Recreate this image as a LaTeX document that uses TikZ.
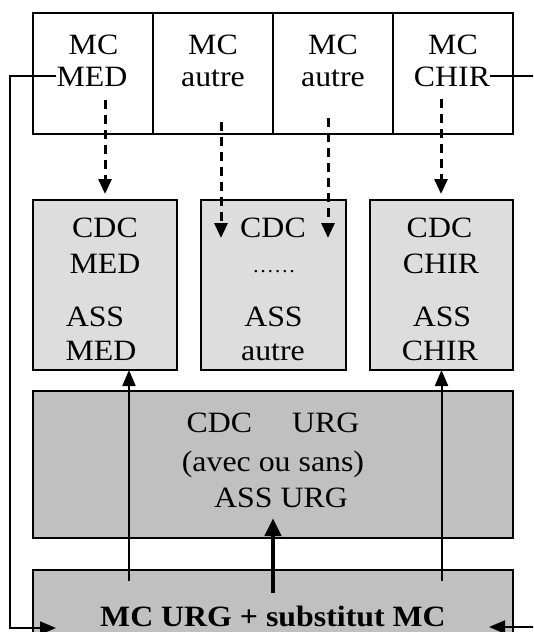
\documentclass[tikz,border=0pt]{standalone}
\usepackage{fontspec}
\setmainfont[FakeStretch=1.08]{Liberation Serif}
\usetikzlibrary{arrows.meta}
\definecolor{lightbox}{HTML}{DDDDDD}
\definecolor{darkbox}{HTML}{C0C0C0}
\begin{document}
\begin{tikzpicture}[x=1pt,y=-1pt,
  box/.style={draw, line width=1.6pt, inner sep=0pt, outer sep=0pt},
  txt/.style={font=\fontsize{29.5}{34}\selectfont, inner sep=0pt, anchor=base},
  btxt/.style={font=\fontsize{29.5}{34}\selectfont\bfseries, inner sep=0pt, anchor=base},
  dasharrow/.style={line width=3pt, dash pattern=on 9pt off 6pt, -{Triangle[width=13pt,length=15pt]}},
  solidarrow/.style={line width=2pt, -{Triangle[width=13pt,length=16pt]}},
  thickarrow/.style={line width=4.5pt, -{Triangle[width=16pt,length=18pt]}},
  conn/.style={line width=2pt}]
\clip (0,0) rectangle (533,632);
\fill[white] (0,0) rectangle (533,632);
% top row cells
\node[box, minimum width=120pt, minimum height=121pt] (mc1) at (93,73.5) {};
\node[box, minimum width=120pt, minimum height=121pt] (mc2) at (213,73.5) {};
\node[box, minimum width=120pt, minimum height=121pt] (mc3) at (333,73.5) {};
\node[box, minimum width=120pt, minimum height=121pt] (mc4) at (453,73.5) {};
\node[txt] (t1a) at (93.5,54) {MC};
\node[txt] (t1b) at (92,86) {MED};
\node[txt] (t2a) at (213,54) {MC};
\node[txt] (t2b) at (213,86) {autre};
\node[txt] (t3a) at (333,54) {MC};
\node[txt] (t3b) at (333,86) {autre};
\node[txt] (t4a) at (453,54) {MC};
\node[txt] (t4b) at (452,86) {CHIR};
% middle boxes
\node[box, fill=lightbox, minimum width=144pt, minimum height=170pt] (b1) at (105,285) {};
\node[box, fill=lightbox, minimum width=145pt, minimum height=170pt] (b2) at (273.5,285) {};
\node[box, fill=lightbox, minimum width=143pt, minimum height=170pt] (b3) at (441.5,285) {};
\node[txt] (b1a) at (105,237) {CDC};
\node[txt] (b1b) at (105,273) {MED};
\node[txt] (b1c) at (95,326) {ASS};
\node[txt] (b1d) at (101,360) {MED};
\node[txt] (b2a) at (273,237) {CDC};
\node[txt] (b2b) at (274,272) {\fontsize{20}{24}\selectfont ……};
\node[txt] (b2c) at (273.5,326) {ASS};
\node[txt] (b2d) at (273,360) {autre};
\node[txt] (b3a) at (439.5,237) {CDC};
\node[txt] (b3b) at (441,273) {CHIR};
\node[txt] (b3c) at (442,326) {ASS};
\node[txt] (b3d) at (440,360) {CHIR};
% URG box
\node[box, fill=darkbox, minimum width=480pt, minimum height=147pt] (urg) at (273,464.5) {};
\node[txt] (u1) at (273,432) {CDC\hspace{40pt}URG};
\node[txt] (u2) at (273,471) {(avec ou sans)};
\node[txt] (u3) at (281,507) {ASS URG};
% bottom box
\node[box, fill=darkbox, minimum width=480pt, minimum height=100pt] (bot) at (273,620) {};
\node[btxt] (bt) at (273,626) {MC URG + substitut MC};
% connectors
\coordinate (d1) at (105,100);
\coordinate (d2) at (221,122);
\coordinate (d2e) at (221,238);
\coordinate (d3) at (328,118);
\coordinate (d3e) at (328,238);
\coordinate (d4) at (441,99);
\draw[dasharrow, shorten >=6pt] (d1) -- (d1 |- b1.north);
\draw[dasharrow] (d2) -- (d2e);
\draw[dasharrow] (d3) -- (d3e);
\draw[dasharrow, shorten >=6pt] (d4) -- (d4 |- b3.north);
\coordinate (s1) at (129,581);
\coordinate (s3) at (441.5,581);
\draw[solidarrow] (s1) -- (s1 |- b1.south);
\draw[solidarrow] (s3) -- (s3 |- b3.south);
\coordinate (ts) at (273,593);
\coordinate (tt) at (273,518);
\draw[thickarrow] (ts) -- (tt);
\coordinate (lx) at (10,628);
\coordinate (ltip) at (56,628);
\draw[conn, -{Triangle[width=13pt,length=16pt]}] (t1b.west) -| (lx) -- (ltip);
\coordinate (rx) at (545,627);
\coordinate (rtip) at (489,627);
\draw[conn, -{Triangle[width=13pt,length=16pt]}] (t4b.east) -| (rx) -- (rtip);
\end{tikzpicture}
\end{document}
